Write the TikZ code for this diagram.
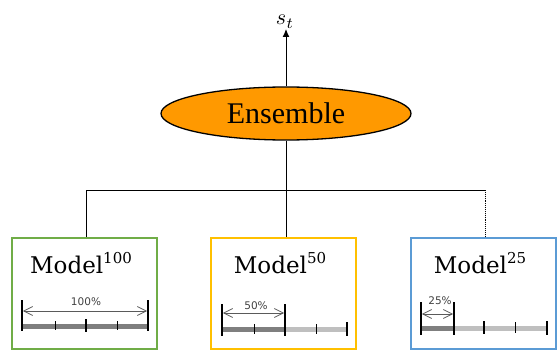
\documentclass[tikz,border=0pt]{standalone}
\usepackage{fontspec}
\setmainfont{Liberation Serif}
\newfontfamily\modelfont{DejaVu Serif}
\newfontfamily\pctfont{DejaVu Sans}
\usetikzlibrary{arrows.meta,shapes.geometric}
\definecolor{grnbox}{HTML}{70AD47}
\definecolor{ylwbox}{HTML}{FFC000}
\definecolor{blubox}{HTML}{5B9BD5}
\definecolor{ensfill}{HTML}{FF9900}
\definecolor{bardark}{HTML}{7F7F7F}
\definecolor{barlight}{HTML}{BFBFBF}
\definecolor{dimgray}{HTML}{5A5A5A}
\definecolor{pcttext}{HTML}{404040}
\newcommand{\modellabel}[1]{{\modelfont\fontsize{23}{27}\selectfont Model\raisebox{9.5pt}{\fontsize{15}{17}\selectfont #1}}}
\begin{document}
\begin{tikzpicture}[x=1pt,y=-1pt,
  modelbox/.style={draw, line width=1.3pt, minimum width=145pt, minimum height=111pt, inner sep=0pt},
  conn/.style={line width=0.9pt, black},
  bardk/.style={line width=5pt, bardark},
  barlt/.style={line width=5pt, barlight},
  bigtick/.style={line width=1.5pt, black},
  midtick/.style={line width=1.3pt, black},
  smalltick/.style={line width=0.8pt, black},
  dimarrow/.style={line width=0.8pt, dimgray, {Straight Barb[length=9pt,width=9pt]}-{Straight Barb[length=9pt,width=9pt]}},
  pct/.style={font=\pctfont\fontsize{10.5}{12}\selectfont, text=pcttext, anchor=base, inner sep=0pt},
  mlabel/.style={anchor=base, inner sep=0pt}
]
\useasboundingbox (0,0) rectangle (557,350);

% Ensemble
\node[ellipse, draw, line width=1.3pt, fill=ensfill, minimum width=250pt, minimum height=53pt, inner sep=0pt,
      font=\fontsize{30}{36}\selectfont] (ens) at (286,113.5) {Ensemble};
\node[anchor=south, inner sep=0.5pt] (st) at (285,29) {\scalebox{2.2}{$s_t$}};
\draw[line width=1pt, -{Latex[length=8pt,width=7pt]}] (ens.north) -- (ens.north |- st.south);

% Boxes
\node[modelbox, draw=grnbox] (b1) at (84.5,293.5) {};
\node[modelbox, draw=ylwbox] (b2) at (283.5,293.5) {};
\node[modelbox, draw=blubox] (b3) at (483.5,293.5) {};

% Connectors
\coordinate (h1) at (86,190);
\coordinate (h2) at (ens.south |- 0,190);
\coordinate (h3) at (485,190);
\draw[conn] (ens.south) -- (h2);
\draw[conn] (h1) -- (h3);
\draw[conn] (h1) -- (h1 |- b1.north);
\draw[conn] (h2) -- (h2 |- b2.north);
\draw[conn, densely dotted] (h3) -- (h3 |- b3.north);

% Labels
\node[mlabel] (m1) at (81,273) {\modellabel{100}};
\node[mlabel] (m2) at (280,273) {\modellabel{50}};
\node[mlabel] (m3) at (480,273) {\modellabel{25}};

% Bar 1 (100%)
\draw[bardk] (22,326) -- (148,326);
\draw[smalltick] (55,321) -- (55,330);
\draw[midtick] (86,319) -- (86,332);
\draw[smalltick] (117,321) -- (117,330);
\draw[bigtick] (22,300) -- (22,331);
\draw[bigtick] (148,300) -- (148,331);
\draw[dimarrow] (22.8,311) -- (147.2,311);
\node[pct] (p1) at (86,305) {100\%};

% Bar 2 (50%)
\draw[bardk] (222,329) -- (285,329);
\draw[barlt] (285,329) -- (347,329);
\draw[smalltick] (254,324) -- (254,334);
\draw[smalltick] (316,324) -- (316,334);
\draw[bigtick] (222,304) -- (222,336);
\draw[bigtick] (285,304) -- (285,336);
\draw[bigtick] (347,322) -- (347,336);
\draw[dimarrow] (222.8,313) -- (284.2,313);
\node[pct] (p2) at (256,309) {50\%};

% Bar 3 (25%)
\draw[bardk] (421,328) -- (454,328);
\draw[barlt] (454,328) -- (547,328);
\draw[midtick] (484,321) -- (484,334);
\draw[smalltick] (515,322) -- (515,333);
\draw[bigtick] (547,321) -- (547,335);
\draw[bigtick] (421,302) -- (421,335);
\draw[bigtick] (454,302) -- (454,335);
\draw[dimarrow] (421.8,314) -- (453.2,314);
\node[pct] (p3) at (440,304) {25\%};
\end{tikzpicture}
\end{document}
